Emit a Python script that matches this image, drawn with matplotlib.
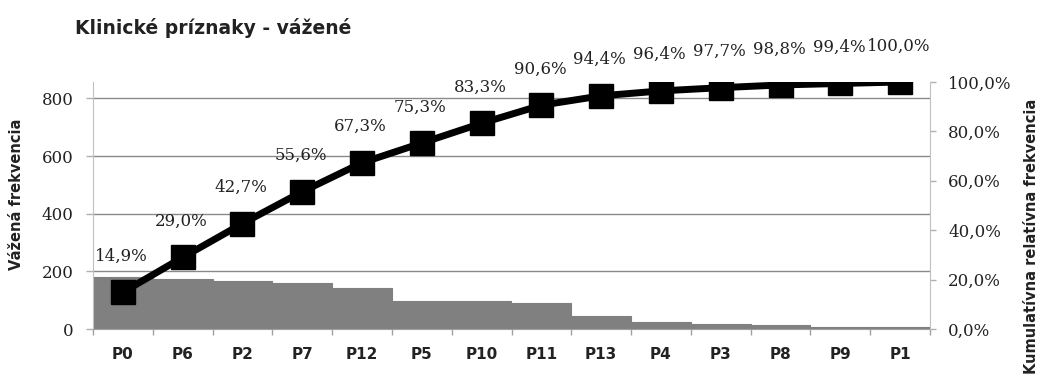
import matplotlib
matplotlib.use("Agg")
import matplotlib.pyplot as plt
import numpy as np

categories = ["P0", "P6", "P2", "P7", "P12", "P5", "P10", "P11", "P13", "P4", "P3", "P8", "P9", "P1"]
weighted_freq = [182, 173, 168, 158, 143, 98, 98, 89, 46, 24, 16, 13, 7, 7]
cumulative_pct = [14.9, 29.0, 42.7, 55.6, 67.3, 75.3, 83.3, 90.6, 94.4, 96.4, 97.7, 98.8, 99.4, 100.0]
left_ticks = [0, 200, 400, 600, 800]
right_ticks = [0, 20, 40, 60, 80, 100]

title = "Klinické príznaky - vážené"
left_label = "Vážená frekvencia"
right_label = "Kumulatívna relatívna frekvencia"

W, H = 1046, 383
fig = plt.figure(figsize=(W / 100, H / 100), dpi=100)
ax = fig.add_axes([93 / W, (H - 329) / H, (930 - 93) / W, (329 - 82) / H])
ax2 = ax.twinx()

x = np.arange(len(categories))
ax.bar(x, weighted_freq, width=1.0, color="#808080", edgecolor="#808080",
       linewidth=0.8, zorder=2)
ax.set_xlim(-0.5, len(categories) - 0.5)
ax.set_ylim(0, 857)
ax.set_yticks(left_ticks)
ax.set_yticklabels([str(t) for t in left_ticks], family="DejaVu Serif", fontsize=12, color="#222222")
ax.yaxis.grid(True, color="#8a8a8a", linewidth=1.0, zorder=1)
ax.set_axisbelow(True)
ax.set_xticks(x)
ax.set_xticklabels(categories, fontweight="bold", fontsize=11, color="#222222")
ax.set_xticks(np.arange(-0.5, len(categories), 1.0), minor=True)
ax.tick_params(axis="x", which="major", length=0, pad=13)
ax.tick_params(axis="x", which="minor", length=4, color="#a0a0a0", width=1)
ax.tick_params(axis="y", length=5, color="#b0b0b0", width=1, pad=9)

ax.spines["top"].set_visible(False)
ax2.spines["top"].set_visible(False)
ax.spines["left"].set_color("#c0c0c0")
ax.spines["bottom"].set_color("#a0a0a0")
ax.spines["right"].set_visible(False)
ax2.spines["left"].set_visible(False)
ax2.spines["bottom"].set_visible(False)
ax2.spines["right"].set_color("#c0c0c0")

ax2.plot(x, cumulative_pct, color="black", linewidth=5, marker="s", markersize=17.5,
         markerfacecolor="black", markeredgecolor="black", zorder=3)
ax2.set_ylim(0, 100)
ax2.set_yticks(right_ticks)
ax2.set_yticklabels([f"{t:.1f}%".replace(".", ",") for t in right_ticks],
                    family="DejaVu Serif", fontsize=12, color="#222222")
ax2.tick_params(axis="y", length=4, color="#b0b0b0", width=1, pad=9)

for xi, v in zip(x, cumulative_pct):
    ax2.annotate(f"{v:.1f}%".replace(".", ","), (xi, v), xytext=(-1, 26),
                 textcoords="offset points", ha="center", va="center",
                 family="DejaVu Serif", fontsize=12, color="#222222",
                 annotation_clip=False)

fig.text(75 / W, (H - 28) / H, title, fontsize=13.5, fontweight="bold",
         ha="left", va="center", color="#222222")
fig.text(17 / W, (H - 194) / H, left_label, rotation=90, fontsize=10.5,
         fontweight="bold", ha="center", va="center", color="#222222")
fig.text(1031 / W, (H - 236) / H, right_label, rotation=90, fontsize=10.5,
         fontweight="bold", ha="center", va="center", color="#222222")

fig.savefig("out.png", dpi=100)
